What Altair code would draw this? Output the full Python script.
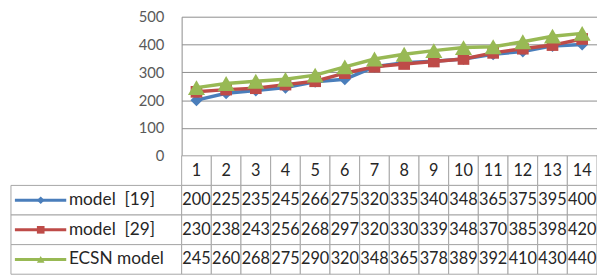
import altair as alt
import pandas as pd

# ---- data ----
cats = list(range(1, 15))
model19 = [200, 225, 235, 245, 266, 275, 320, 335, 340, 348, 365, 375, 395, 400]
model29 = [230, 238, 243, 256, 268, 297, 320, 330, 339, 348, 370, 385, 398, 420]
ecsn = [245, 260, 268, 275, 290, 320, 348, 365, 378, 389, 392, 410, 430, 440]
series_keys = ["m19", "m29", "ecsn"]
series_labels = ["model\u00a0\u00a0[19]", "model\u00a0\u00a0[29]", "\u00a0ECSN model"]
series_values = [model19, model29, ecsn]
y_ticks = [0, 100, 200, 300, 400, 500]

# ---- styles ----
colors = ["#4A7EBB", "#BE4B48", "#98B954"]
shapes = ["diamond", "square", "triangle-up"]
sizes = [150, 140, 300]
FONT = "Lato"
GRID = "#8c8c8c"
TABLE = "#a6a6a6"
TXT = "#262626"

# layout constants in column units (column k spans [k-1, k])
LEG_LEFT = -5.753
KEY_X0, KEY_X1, KEY_XM = -5.62, -3.89, -4.75
LABEL_X = -3.80

# ---- tables ----
rows = []
for key, label, vals in zip(series_keys, series_labels, series_values):
    for c, v in zip(cats, vals):
        rows.append({"series": key, "cat": c, "value": v, "xc": c - 0.5, "text": str(v)})
df = pd.DataFrame(rows)

cells = []
for c in cats:
    cells.append({"row": "hdr", "x0": c - 1, "x1": c})
for key in series_keys:
    cells.append({"row": key, "x0": LEG_LEFT, "x1": 0})
    for c in cats:
        cells.append({"row": key, "x0": c - 1, "x1": c})
cells = pd.DataFrame(cells)

hdr = pd.DataFrame({"row": "hdr", "xc": [c - 0.5 for c in cats], "text": [str(c) for c in cats]})
leg = pd.DataFrame({"row": series_keys, "label": series_labels,
                    "xs": KEY_X0, "xe": KEY_X1, "xm": KEY_XM, "xl": LABEL_X})

x_scale = alt.Scale(domain=[0, 14], nice=False, zero=False)
row_scale = alt.Scale(domain=["hdr"] + series_keys, range=[141, 261], paddingInner=0, paddingOuter=0)
val_scale = alt.Scale(domain=[0, 500], nice=False)
col_scale = alt.Scale(domain=series_keys, range=colors)
shape_scale = alt.Scale(domain=series_keys, range=shapes)

Y_ROW = alt.Y("row:N", scale=row_scale, axis=None)

layers = []

# table cells
layers.append(alt.Chart(cells).mark_rect(fill="white", stroke=TABLE, strokeWidth=1).encode(
    x=alt.X("x0:Q", scale=x_scale, axis=None), x2="x1:Q", y=Y_ROW))

# lines and markers
for i, key in enumerate(series_keys):
    base = alt.Chart(df[df.series == key])
    axis = None
    if i == 0:
        axis = alt.Axis(values=y_ticks, grid=True, gridColor=GRID, gridWidth=1,
                        domain=True, domainColor=GRID, ticks=False, labelPadding=18,
                        labelFontSize=15, labelColor="#595959", labelFont=FONT, title=None)
    enc = dict(x=alt.X("xc:Q", scale=x_scale, axis=None),
               y=alt.Y("value:Q", scale=val_scale, axis=axis))
    layers.append(base.mark_line(color=colors[i], strokeWidth=3.5).encode(**enc))
    enc2 = dict(x=alt.X("xc:Q", scale=x_scale, axis=None),
                y=alt.Y("value:Q", scale=val_scale, axis=None))
    layers.append(base.mark_point(shape=shapes[i], filled=True, size=sizes[i],
                                  color=colors[i], opacity=1).encode(**enc2))

# header numbers
layers.append(alt.Chart(hdr).mark_text(font=FONT, fontSize=16.5, color=TXT, baseline="middle").encode(
    x=alt.X("xc:Q", scale=x_scale, axis=None), y=Y_ROW, text="text:N"))
# values
layers.append(alt.Chart(df.rename(columns={"series": "row"})).mark_text(
    font=FONT, fontSize=16.5, color=TXT, baseline="middle").encode(
    x=alt.X("xc:Q", scale=x_scale, axis=None), y=Y_ROW, text="text:N"))
# legend keys
layers.append(alt.Chart(leg).mark_rule(strokeWidth=3).encode(
    x=alt.X("xs:Q", scale=x_scale, axis=None), x2="xe:Q", y=Y_ROW,
    color=alt.Color("row:N", scale=col_scale, legend=None)))
layers.append(alt.Chart(leg).mark_point(filled=True, size=60, opacity=1).encode(
    x=alt.X("xm:Q", scale=x_scale, axis=None), y=Y_ROW,
    color=alt.Color("row:N", scale=col_scale, legend=None),
    shape=alt.Shape("row:N", scale=shape_scale, legend=None)))
layers.append(alt.Chart(leg).mark_text(font=FONT, fontSize=17.5, color=TXT, align="left",
                                       baseline="middle").encode(
    x=alt.X("xl:Q", scale=x_scale, axis=None), y=Y_ROW, text="label:N"))

chart = alt.layer(*layers).resolve_scale(y="independent").properties(
    width=421, height=141,
    padding={"left": 176, "top": 7, "right": 0, "bottom": 121},
    autosize=alt.AutoSizeParams(type="none"),
).configure_view(strokeWidth=0)

chart.save("out.html", embed_options={"renderer": "svg", "actions": False})
